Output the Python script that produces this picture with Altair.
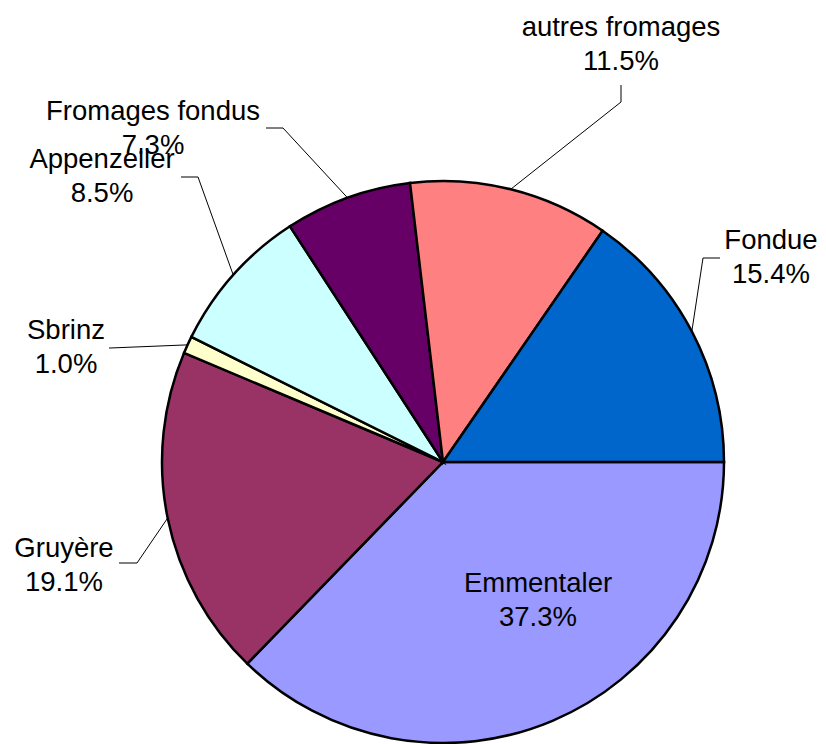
import math
import altair as alt
import pandas as pd

# ---- data ----
categories = ["Emmentaler", "Gruyère", "Sbrinz", "Appenzeller",
              "Fromages fondus", "autres fromages", "Fondue"]
shares = [37.3, 19.1, 1.0, 8.5, 7.3, 11.5, 15.4]
pct_labels = ["37.3%", "19.1%", "1.0%", "8.5%", "7.3%", "11.5%", "15.4%"]
colors = ["#9999FF", "#993366", "#FFFFCC", "#CCFFFF", "#660066", "#FF8080", "#0066CC"]

# ---- layout (pixels, relative to the pie centre) ----
W, H = 566, 400
PAD = {"left": 152, "top": 254, "right": 92, "bottom": 82}
CX, CY = W / 2, H / 2
R = 281
FONT = "Liberation Sans"
FS = 27.5
# label centre x, baseline of first line (relative to pie centre)
label_dx = {"Emmentaler": 95, "Gruyère": -379, "Sbrinz": -377, "Appenzeller": -341,
            "Fromages fondus": -290, "autres fromages": 178, "Fondue": 328}
label_dy = {"Emmentaler": 130, "Gruyère": 95, "Sbrinz": -123, "Appenzeller": -294,
            "Fromages fondus": -342, "autres fromages": -426, "Fondue": -213}
LINE_GAP = 34
# leader elbow and end points (relative to pie centre)
leader = {
    "Gruyère": [(-306, 101), (-324, 101)],
    "Sbrinz": [(-333, -114), (-334, -114)],
    "Appenzeller": [(-245, -285), (-262, -285)],
    "Fromages fondus": [(-160, -334), (-177, -334)],
    "autres fromages": [(178, -360), (178, -377)],
    "Fondue": [(260, -204), (277, -204)],
}

total = sum(shares)
df = pd.DataFrame({"cat": categories, "value": shares, "pct": pct_labels,
                   "order": list(range(len(categories)))})

# label table
lab = pd.DataFrame({
    "cat": categories,
    "pct": pct_labels,
    "x": [CX + label_dx[c] for c in categories],
    "y1": [CY + label_dy[c] for c in categories],
    "y2": [CY + label_dy[c] + LINE_GAP for c in categories],
})

# leader lines: start on the rim at each slice's mid-angle
rows = []
cum = 0.0
for c, v in zip(categories, shares):
    mid = (cum + v / 2) / total * 2 * math.pi  # clockwise from 3 o'clock
    cum += v
    if c not in leader:
        continue
    pts = [(R * math.cos(mid), R * math.sin(mid))] + leader[c]
    for i, (px, py) in enumerate(pts):
        rows.append({"cat": c, "i": i, "x": CX + px, "y": CY + py})
lines = pd.DataFrame(rows)

pie = alt.Chart(df).mark_arc(outerRadius=R, stroke="black", strokeWidth=2.5).encode(
    theta=alt.Theta("value:Q", stack=True,
                    scale=alt.Scale(range=[math.pi / 2, 5 * math.pi / 2])),
    order=alt.Order("order:Q"),
    color=alt.Color("cat:N", scale=alt.Scale(domain=categories, range=colors), legend=None),
)

lead = alt.Chart(lines).mark_line(color="black", strokeWidth=1).encode(
    x=alt.X("x:Q", scale=None, axis=None),
    y=alt.Y("y:Q", scale=None, axis=None),
    detail="cat:N",
    order="i:Q",
)

name_txt = alt.Chart(lab).mark_text(font=FONT, fontSize=FS, color="black",
                                    align="center", baseline="alphabetic").encode(
    x=alt.X("x:Q", scale=None, axis=None),
    y=alt.Y("y1:Q", scale=None, axis=None),
    text="cat:N",
)
pct_txt = alt.Chart(lab).mark_text(font=FONT, fontSize=FS, color="black",
                                   align="center", baseline="alphabetic").encode(
    x=alt.X("x:Q", scale=None, axis=None),
    y=alt.Y("y2:Q", scale=None, axis=None),
    text="pct:N",
)

chart = alt.layer(pie, lead, name_txt, pct_txt).properties(
    width=W, height=H,
    autosize=alt.AutoSizeParams(type="none"),
    padding=PAD,
    background="white",
).configure_view(stroke=None)

chart.save("out.html", embed_options={"renderer": "svg", "actions": False})
